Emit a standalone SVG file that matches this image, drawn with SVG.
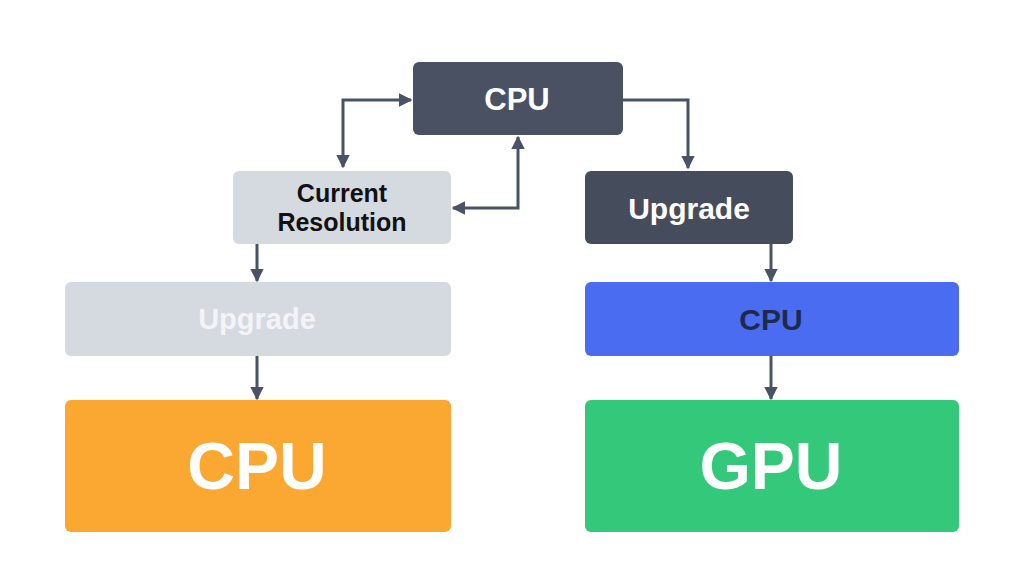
<svg xmlns="http://www.w3.org/2000/svg" width="1024" height="585" viewBox="0 0 1024 585">
<defs>
<style>
.t{font-family:"Liberation Sans",Arial,sans-serif;font-weight:700;text-anchor:middle;dominant-baseline:central}
.c{fill:none;stroke:#4a5366;stroke-width:3}
</style>
<marker id="a" viewBox="0 0 10 10" refX="9" refY="5" markerWidth="4.5" markerHeight="4.5" orient="auto-start-reverse"><path d="M0,0L10,5L0,10z" fill="#4a5366"/></marker>
</defs>
<rect width="1024" height="585" fill="#fff"/>
<g id="connectors">
<path class="c" d="M343,167V100H411" marker-start="url(#a)" marker-end="url(#a)"/>
<path class="c" d="M453,208H518V137" marker-start="url(#a)" marker-end="url(#a)"/>
<path class="c" d="M623,100H688V168" marker-end="url(#a)"/>
<path class="c" d="M771,244V281" marker-end="url(#a)"/>
<path class="c" d="M257,244V281" marker-end="url(#a)"/>
<path class="c" d="M257,356V399" marker-end="url(#a)"/>
<path class="c" d="M771,356V399" marker-end="url(#a)"/>
</g>
<g id="cpu-top"><rect x="413" y="62" width="210" height="73" rx="6" fill="#4a5163"/><text class="t" x="517" y="99" font-size="31" fill="#fff">CPU</text></g>
<g id="current-resolution"><rect x="233" y="171" width="218" height="73" rx="6" fill="#d5d9e0"/><text class="t" x="342" y="193" font-size="25" fill="#111">Current</text><text class="t" x="342" y="222" font-size="25" fill="#111">Resolution</text></g>
<g id="upgrade-right"><rect x="585" y="171" width="208" height="73" rx="6" fill="#454c5c"/><text class="t" x="689" y="208" font-size="30" fill="#fff">Upgrade</text></g>
<g id="upgrade-left"><rect x="65" y="282" width="386" height="74" rx="6" fill="#d5d9e0"/><text class="t" x="257" y="319" font-size="29" fill="#f3f4f7">Upgrade</text></g>
<g id="cpu-blue"><rect x="585" y="282" width="374" height="74" rx="6" fill="#4a6cf0"/><text class="t" x="771" y="319" font-size="30" fill="#1f2a4a">CPU</text></g>
<g id="cpu-orange"><rect x="65" y="400" width="386" height="132" rx="6" fill="#fba832"/><text class="t" x="257" y="466" font-size="66" fill="#fff">CPU</text></g>
<g id="gpu-green"><rect x="585" y="400" width="374" height="132" rx="6" fill="#34c97a"/><text class="t" x="771" y="466" font-size="66" fill="#fff">GPU</text></g>
</svg>
